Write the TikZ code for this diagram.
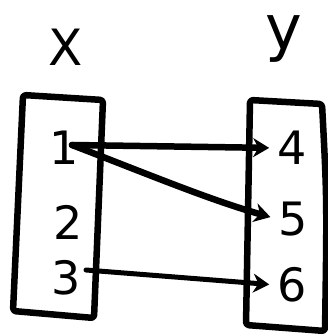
\documentclass[tikz,border=0pt]{standalone}
\usepackage{fontspec}
\setmainfont{DejaVu Sans}
\usetikzlibrary{arrows.meta}
\begin{document}
\begin{tikzpicture}[x=1pt,y=-1pt,
  line join=round, line cap=round,
  setbox/.style={line width=6.5pt, rounded corners=3pt},
  elem/.style={font=\fontsize{46}{46}\selectfont, inner sep=1pt},
  setname/.style={font=\fontsize{50}{50}\selectfont, inner sep=0pt},
  mapto/.style={line width=6.5pt, shorten >=7pt, -{Stealth[length=16pt,width=19pt]}}]
\useasboundingbox (0,0) rectangle (328,336);
% set labels
\node[setname] (X) at (66,47) {X};
\node[setname, font=\fontsize{62}{62}\selectfont, text height=34pt, text depth=15pt] (Y) at (284,40) {y};
% boxes
\draw[setbox] (23,95) -- (103,100) -- (94,318) -- (13,311) -- cycle;
\draw[setbox] (250,100) -- (322,104) .. controls (327,200) .. (325,331) -- (246,325) -- cycle;
% elements
\node[elem] (e1) at (64,148) {1};
\node[elem] (e2) at (68,222) {2};
\node[elem] (e3) at (66,278) {3};
\node[elem] (e4) at (292,148) {4};
\node[elem] (e5) at (293,219) {5};
\node[elem] (e6) at (292,285) {6};
% mappings
\coordinate (s1) at (72,145);
\coordinate (s3) at (86,270);
\draw[mapto] (s1) -- (e4.west);
\draw[mapto] (s1) .. controls (150,175) and (210,200) .. (e5.west);
\draw[mapto, line width=5pt] (s3) -- (e6.west);
\end{tikzpicture}
\end{document}
